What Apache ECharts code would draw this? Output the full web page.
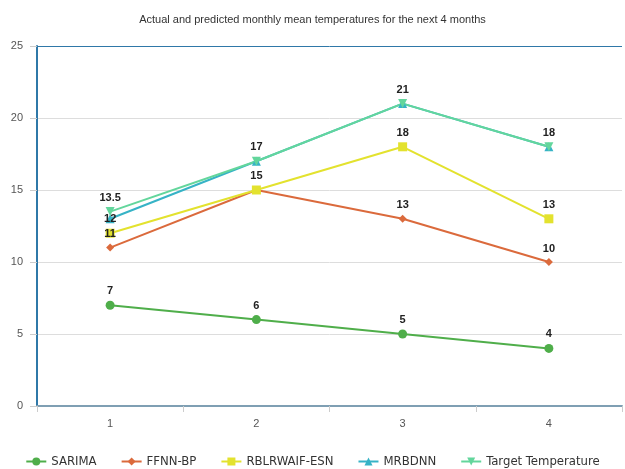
<!DOCTYPE html>
<html>
<head>
<meta charset="utf-8">
<script src="https://cdn.jsdelivr.net/npm/echarts@6/dist/echarts.min.js"></script>
<style>
  html, body { margin: 0; padding: 0; background: #fff; }
  #chart { width: 625px; height: 469px; }
</style>
</head>
<body>
<div id="chart"></div>
<script>
// Months ahead
const months = ['1', '2', '3', '4'];

// Monthly mean temperature per model
const sarima = [7, 6, 5, 4];
const ffnnBp = [11, 15, 13, 10];
const rblrwaifEsn = [12, 15, 18, 13];
const mrbdnn = [13, 17, 21, 18];
const targetTemp = [13.5, 17, 21, 18];

const chart = echarts.init(document.getElementById('chart'));

const labelStyle = {
  show: true,
  position: 'top',
  distance: 4,
  color: '#222',
  fontWeight: 'bold',
  fontSize: 11,
  fontFamily: 'Liberation Sans, Arial, sans-serif'
};

function makeSeries(name, data, color, symbol, size, opts) {
  return Object.assign({
    name: name,
    type: 'line',
    data: data,
    symbol: symbol,
    symbolSize: size,
    itemStyle: { color: color },
    lineStyle: { color: color, width: 2 },
    label: labelStyle,
    z: 2
  }, opts || {});
}

chart.setOption({
  animation: false,
  title: {
    text: 'Actual and predicted monthly mean temperatures for the next 4 months',
    left: 'center',
    top: 9,
    textStyle: {
      fontSize: 11,
      fontWeight: 'normal',
      color: '#333',
      fontFamily: 'Liberation Sans Narrow, Liberation Sans, Arial, sans-serif'
    }
  },
  legend: {
    top: 450,
    left: 'center',
    itemGap: 24,
    itemWidth: 20,
    itemHeight: 10,
    textStyle: {
      fontSize: 13,
      color: '#333',
      fontFamily: 'DejaVu Sans Condensed, DejaVu Sans, sans-serif'
    },
    data: ['SARIMA', 'FFNN-BP', 'RBLRWAIF-ESN', 'MRBDNN', 'Target Temperature']
  },
  grid: { left: 37, right: 3, top: 46, bottom: 63 },
  xAxis: {
    type: 'category',
    data: months,
    boundaryGap: true,
    axisLine: { lineStyle: { color: '#7f9fb3', width: 2 } },
    axisTick: { show: true, length: 6, lineStyle: { color: '#ccc' } },
    axisLabel: { color: '#555', fontSize: 11, margin: 12, fontFamily: 'Liberation Sans, Arial, sans-serif' }
  },
  yAxis: {
    type: 'value',
    min: 0,
    max: 25,
    interval: 5,
    axisLine: { show: true, lineStyle: { color: '#2f78a8', width: 2 } },
    axisTick: { show: true, length: 7, lineStyle: { color: '#ccc' } },
    axisLabel: { color: '#555', fontSize: 11, margin: 14, fontFamily: 'Liberation Sans, Arial, sans-serif' },
    splitLine: {
      show: true,
      lineStyle: {
        color: ['#dddddd', '#dddddd', '#dddddd', '#dddddd', '#dddddd', '#2f78a8'],
        width: 1
      }
    }
  },
  series: [
    makeSeries('SARIMA', sarima, '#4fae4a', 'circle', 9),
    makeSeries('FFNN-BP', ffnnBp.map((v, i) => i === 1 ? { value: v, label: { show: false } } : v),
      '#db6a3c', 'diamond', 8),
    makeSeries('RBLRWAIF-ESN', rblrwaifEsn, '#e3e22e', 'rect', 9),
    makeSeries('MRBDNN', mrbdnn, '#36b3c6', 'triangle', 9, { label: { show: false } }),
    makeSeries('Target Temperature', targetTemp, '#63d69c', 'triangle', 9, { symbolRotate: 180 })
  ]
});
</script>
</body>
</html>
